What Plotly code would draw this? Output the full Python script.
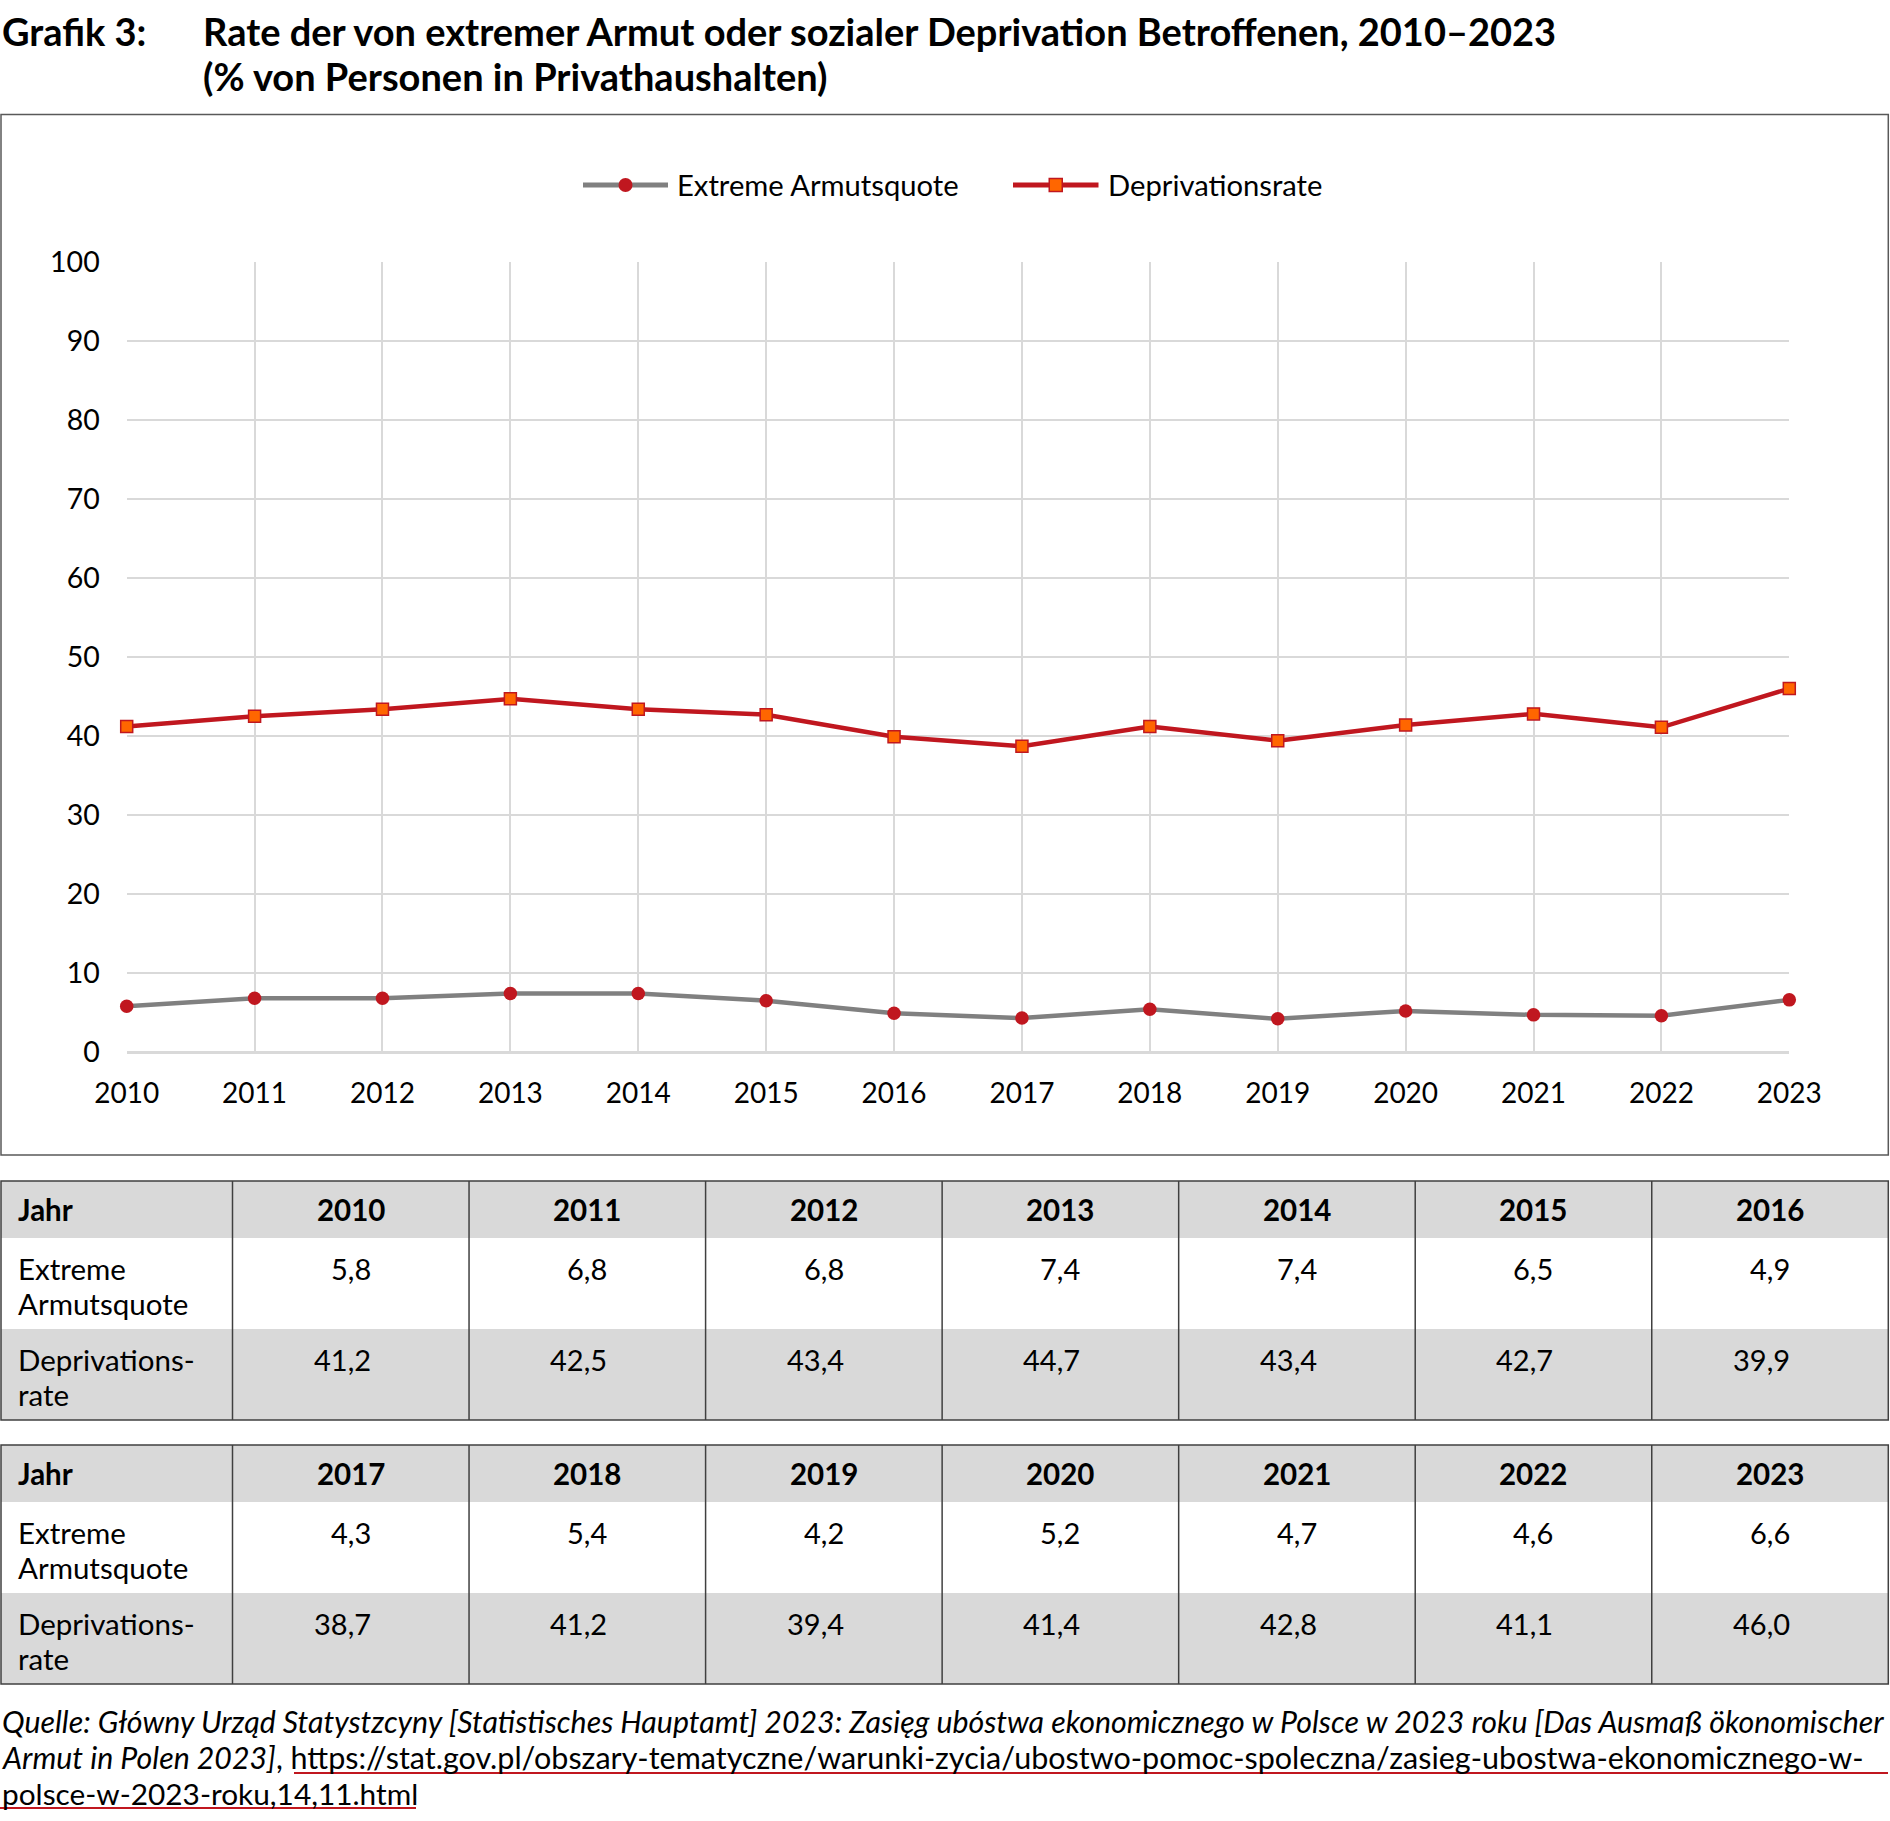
import plotly.graph_objects as go

# ---------------- data ----------------
years = list(range(2010, 2024))
extreme = [5.8, 6.8, 6.8, 7.4, 7.4, 6.5, 4.9, 4.3, 5.4, 4.2, 5.2, 4.7, 4.6, 6.6]
depriv = [41.2, 42.5, 43.4, 44.7, 43.4, 42.7, 39.9, 38.7, 41.2, 39.4, 41.4, 42.8, 41.1, 46.0]
y_ticks = list(range(0, 101, 10))
series_names = ["Extreme Armutsquote", "Deprivationsrate"]
table_head = "Jahr"
table_row_labels = [["Extreme", "Armutsquote"], ["Deprivations-", "rate"]]
title_label = "Grafik 3:"
title_lines = ["Rate der von extremer Armut oder sozialer Deprivation Betroffenen, 2010–2023",
               "(% von Personen in Privathaushalten)"]
source_italic = ["Quelle: Główny Urząd Statystzcyny [Statistisches Hauptamt] 2023: Zasięg ubóstwa ekonomicznego w Polsce w 2023 roku [Das Ausmaß ökonomischer",
                 "Armut in Polen 2023]", ""]
source_url = ["",
              "https://stat.gov.pl/obszary-tematyczne/warunki-zycia/ubostwo-pomoc-spoleczna/zasieg-ubostwa-ekonomicznego-w-",
              "polsce-w-2023-roku,14,11.html"]

# ---------------- style / layout ----------------
W, H = 1890, 1821
FONT = "Lato"
GREY = "#808080"
RED = "#C0171F"
ORANGE = "#FF6600"
GRID = "#D9D9D9"
FILL = "#D9D9D9"
BORDER = "#404040"

def px(x):
    return x / W

def py(y):
    return 1 - y / H

X0, X1 = 126.7, 1789.3   # plot area (2010 .. 2023)
YB, YT = 1052, 262       # plot area (0 .. 100)

fig = go.Figure()

fig.add_trace(go.Scatter(
    x=years, y=extreme, name=series_names[0], mode="lines+markers",
    line=dict(color=GREY, width=4.5),
    marker=dict(symbol="circle", size=13.5, color=RED, line=dict(width=0)),
    cliponaxis=False, showlegend=False))
fig.add_trace(go.Scatter(
    x=years, y=depriv, name=series_names[1], mode="lines+markers",
    line=dict(color=RED, width=4.5),
    marker=dict(symbol="square", size=12, color=ORANGE, line=dict(width=1.5, color=RED)),
    cliponaxis=False, showlegend=False))

shapes = []
annotations = []

# chart frame
shapes.append(dict(type="rect", xref="paper", yref="paper",
                   x0=px(1), x1=px(1888.3), y0=py(114.5), y1=py(1155),
                   line=dict(color="#595959", width=1.5), layer="below"))

# title
TITLE_FS = 38
annotations.append(dict(text=f"<b>{title_label}</b>", x=px(0), y=py(31), xref="paper", yref="paper",
                        xanchor="left", yanchor="middle", showarrow=False,
                        font=dict(family=FONT, size=TITLE_FS, color="black")))
for i, t in enumerate(title_lines):
    annotations.append(dict(text=f"<b>{t}</b>", x=px(201), y=py(31 + 45 * i), xref="paper", yref="paper",
                            xanchor="left", yanchor="middle", showarrow=False,
                            font=dict(family=FONT, size=TITLE_FS, color="black")))

# custom legend
LEG_Y = 185
leg = [
    dict(x0=583, x1=668, color=GREY, marker="circle", text_x=675, name=series_names[0]),
    dict(x0=1013, x1=1098.5, color=RED, marker="square", text_x=1106, name=series_names[1]),
]
for L in leg:
    shapes.append(dict(type="line", xref="paper", yref="paper",
                       x0=px(L["x0"]), x1=px(L["x1"]), y0=py(LEG_Y), y1=py(LEG_Y),
                       line=dict(color=L["color"], width=5)))
    cx = (L["x0"] + L["x1"]) / 2
    if L["marker"] == "circle":
        r = 7
        shapes.append(dict(type="circle", xref="paper", yref="paper",
                           x0=px(cx - r), x1=px(cx + r), y0=py(LEG_Y - r), y1=py(LEG_Y + r),
                           fillcolor=RED, line=dict(width=0)))
    else:
        r = 6.5
        shapes.append(dict(type="rect", xref="paper", yref="paper",
                           x0=px(cx - r), x1=px(cx + r), y0=py(LEG_Y - r), y1=py(LEG_Y + r),
                           fillcolor=ORANGE, line=dict(width=1.5, color=RED)))
    annotations.append(dict(text=L["name"], x=px(L["text_x"]), y=py(LEG_Y), xref="paper", yref="paper",
                            xanchor="left", yanchor="middle", showarrow=False,
                            font=dict(family=FONT, size=29.2, color="black")))

# tables
TAB_FS = 29.5
FIRST_W = 232.5
RIGHT = 1888.3
ncol = 7
col_w = (RIGHT - FIRST_W) / ncol
row_h = [57, 91, 91]
table_tops = [1181, 1445]
VAL_SHIFT = 22  # values are right-aligned slightly right of the column centre

def fmt(v):
    return f"{v:.1f}".replace(".", ",")

for ti, top in enumerate(table_tops):
    idx = list(range(ti * ncol, ti * ncol + ncol))
    rows_y = [top, top + row_h[0], top + row_h[0] + row_h[1], top + sum(row_h)]
    for ri, fill in enumerate([FILL, "white", FILL]):
        shapes.append(dict(type="rect", xref="paper", yref="paper",
                           x0=px(1), x1=px(RIGHT), y0=py(rows_y[ri]), y1=py(rows_y[ri + 1]),
                           fillcolor=fill, line=dict(width=0), layer="below"))
    shapes.append(dict(type="rect", xref="paper", yref="paper",
                       x0=px(1), x1=px(RIGHT), y0=py(rows_y[0]), y1=py(rows_y[3]),
                       line=dict(color=BORDER, width=1.5)))
    for c in range(ncol):
        xx = FIRST_W + c * col_w
        shapes.append(dict(type="line", xref="paper", yref="paper",
                           x0=px(xx), x1=px(xx), y0=py(rows_y[0]), y1=py(rows_y[3]),
                           line=dict(color=BORDER, width=1.5)))
    hc = (rows_y[0] + rows_y[1]) / 2
    annotations.append(dict(text=f"<b>{table_head}</b>", x=px(16), y=py(hc), xref="paper", yref="paper",
                            xanchor="left", yanchor="middle", showarrow=False,
                            font=dict(family=FONT, size=TAB_FS, color="black")))
    for c, k in enumerate(idx):
        cx = FIRST_W + (c + 0.5) * col_w
        annotations.append(dict(text=f"<b>{years[k]}</b>", x=px(cx), y=py(hc), xref="paper", yref="paper",
                                xanchor="center", yanchor="middle", showarrow=False,
                                font=dict(family=FONT, size=TAB_FS, color="black")))
    for ri, (labels, vals) in enumerate(zip(table_row_labels, [extreme, depriv])):
        rtop = rows_y[ri + 1]
        for li, lab in enumerate(labels):
            annotations.append(dict(text=lab, x=px(16), y=py(rtop + 30 + 35 * li), xref="paper", yref="paper",
                                    xanchor="left", yanchor="middle", showarrow=False,
                                    font=dict(family=FONT, size=TAB_FS, color="black")))
        for c, k in enumerate(idx):
            cx = FIRST_W + (c + 0.5) * col_w + VAL_SHIFT
            annotations.append(dict(text=fmt(vals[k]), x=px(cx), y=py(rtop + 30), xref="paper", yref="paper",
                                    xanchor="right", yanchor="middle", showarrow=False,
                                    font=dict(family=FONT, size=29, color="black")))

# source
SRC_I_FS = 30.3
SRC_U_FS = [30.5, 30.5, 29.8]
for i, (it, url) in enumerate(zip(source_italic, source_url)):
    parts = []
    if it:
        parts.append(f"<i><span style='font-size:{SRC_I_FS}px'>{it}</span></i>")
    if it and url:
        parts.append(f"<span style='font-size:{SRC_I_FS}px'>, </span>")
    if url:
        parts.append(f"<span style='font-size:{SRC_U_FS[i]}px'>{url}</span>")
    annotations.append(dict(text="".join(parts), x=px(0), y=py(1721 + 36 * i), xref="paper", yref="paper",
                            xanchor="left", yanchor="middle", showarrow=False,
                            font=dict(family=FONT, size=SRC_I_FS, color="black")))
for (ux0, ux1, uy) in [(294, 1888, 1773), (0, 416, 1808)]:
    shapes.append(dict(type="line", xref="paper", yref="paper",
                       x0=px(ux0), x1=px(ux1), y0=py(uy), y1=py(uy),
                       line=dict(color=RED, width=2)))

fig.update_layout(
    width=W, height=H, autosize=False,
    margin=dict(l=0, r=0, t=0, b=0, pad=0, autoexpand=False),
    paper_bgcolor="white", plot_bgcolor="white",
    font=dict(family=FONT, size=28, color="black"),
    shapes=shapes, annotations=annotations,
    xaxis=dict(domain=[px(X0), px(X1)], range=[2010, 2023], tickmode="array", tickvals=years,
               ticktext=[str(y) for y in years], showgrid=True, gridcolor=GRID, gridwidth=1.5,
               zeroline=False, showline=False, ticks="", ticklabelstandoff=22, automargin=False,
               tickfont=dict(family=FONT, size=28, color="black")),
    yaxis=dict(domain=[py(YB), py(YT)], range=[0, 100], tickmode="array", tickvals=y_ticks,
               showgrid=True, gridcolor=GRID, gridwidth=1.5, automargin=False,
               zeroline=True, zerolinecolor=GRID, zerolinewidth=3, showline=False, ticks="",
               ticklabelstandoff=26, tickfont=dict(family=FONT, size=28.5, color="black")),
    showlegend=False,
)

fig.write_html("out.html", config={"displayModeBar": False},
               post_script="document.body.style.margin='0';")
